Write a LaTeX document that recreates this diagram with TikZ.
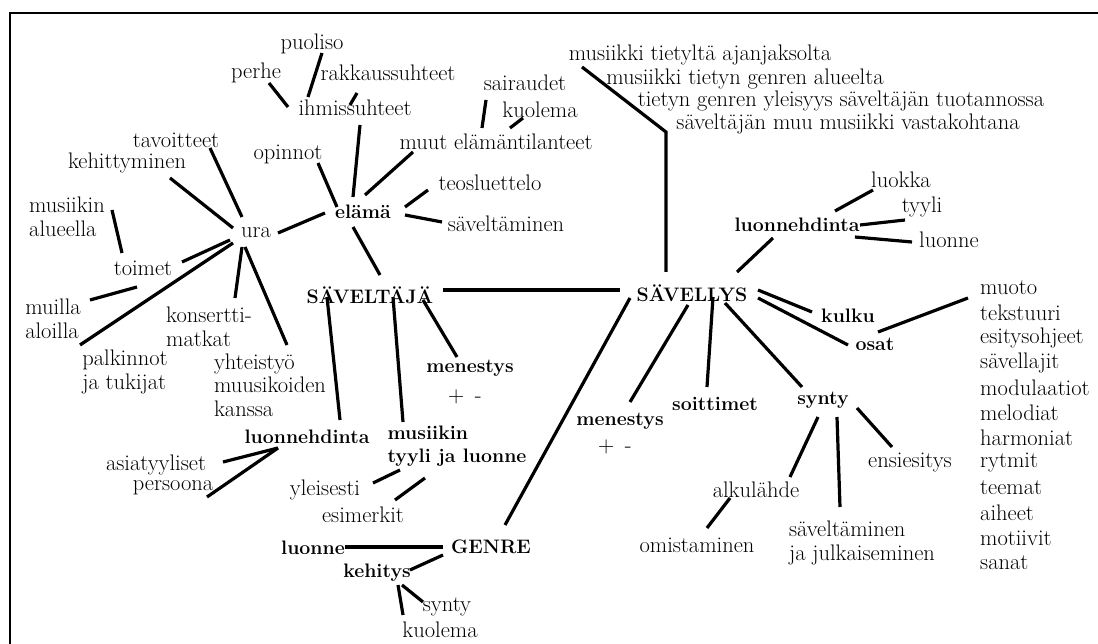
\documentclass[tikz,border=0pt]{standalone}
\usepackage{tikz}
\tikzset{
  txt/.style={inner sep=0pt, font=\fontsize{22.5}{23.5}\selectfont, align=left},
  bld/.style={inner sep=0pt, font=\fontsize{19.5}{23}\selectfont\bfseries, align=left},
  conn/.style={line width=3.2pt, line cap=butt},
  frame/.style={line width=2.4pt},
}
\newcommand\lnk[4]{\draw[conn] ([shift={(#2)}]#1.center) -- ([shift={(#4)}]#3.center);}
\begin{document}
\begin{tikzpicture}[x=1pt,y=-1pt]
\useasboundingbox (0,0) rectangle (1098,644);
\fill[white] (0,0) rectangle (1098,644);
\draw[frame] (10,644) -- (10,13) -- (1098,13);

% left cluster
\node[txt] (puoliso) at (312,44) {puoliso};
\node[txt] (perhe) at (256,73) {perhe};
\node[txt] (rakkaus) at (388,73) {rakkaussuhteet};
\node[txt] (ihm) at (355,108) {ihmissuhteet};
\node[txt] (tavoit) at (176,140) {tavoitteet};
\node[txt] (kehitt) at (127,163) {kehittyminen};
\node[txt] (opinnot) at (288,154) {opinnot};
\node[txt] (musalue) at (67,217) {musiikin\\alueella};
\node[txt] (ura) at (256,233) {ura};
\node[bld] (elama) at (363,212) {elämä};
\node[txt] (toimet) at (143,268) {toimet};
\node[txt] (muilla) at (53,319) {muilla\\aloilla};
\node[txt] (palk) at (125,372) {palkinnot\\ja tukijat};
\node[txt] (kons) at (209,327) {konsertti-\\matkat};
\node[txt] (yht) at (270,385) {yhteistyö\\muusikoiden\\kanssa};
\node[txt] (muut) at (496,142) {muut elämäntilanteet};
\node[txt] (sair) at (525,83) {sairaudet};
\node[txt] (kuol) at (540,110) {kuolema};
\node[txt] (teos) at (490,183) {teosluettelo};
\node[txt] (savel) at (506,224) {säveltäminen};
\node[bld] (SJ) at (370,295) {SÄVELTÄJÄ};
\node[bld] (SL) at (692,293) {SÄVELLYS};
\node[bld] (men1) at (470,368) {menestys};
\node[txt] (pm1) at (465,397) {+ \,-};
\node[bld] (luo1) at (307,437) {luonnehdinta};
\node[bld] (mty) at (457,446) {musiikin\\tyyli ja luonne};
\node[txt] (asia) at (156,465) {asiatyyliset};
\node[txt] (pers) at (173,488) {persoona};
\node[txt] (yleis) at (325,490) {yleisesti};
\node[txt] (esim) at (363,515) {esimerkit};
\node[bld] (genre) at (491,547) {GENRE};
\node[bld] (luonne2) at (313,548) {luonne};
\node[bld] (kehit) at (377,573) {kehitys};
\node[txt] (synty2) at (447,607) {synty};
\node[txt] (kuol2) at (440,630) {kuolema};

% right cluster
\node[txt] (mt1) at (700,55) {musiikki tietyltä ajanjaksolta};
\node[txt] (mt2) at (745,79) {musiikki tietyn genren alueelta};
\node[txt] (mt3) at (841,101) {tietyn genren yleisyys säveltäjän tuotannossa};
\node[txt] (mt4) at (848,124) {säveltäjän muu musiikki vastakohtana};
\node[txt] (luokka) at (901,180) {luokka};
\node[txt] (tyyli) at (922,207) {tyyli};
\node[bld] (luo2) at (797,225) {luonnehdinta};
\node[txt] (luonne) at (949,240) {luonne};
\node[bld] (kulku) at (848,316) {kulku};
\node[bld] (osat) at (875,344) {osat};
\node[bld] (soitt) at (715,404) {soittimet};
\node[bld] (men2) at (620,421) {menestys};
\node[txt] (pm2) at (615,447) {+ \,-};
\node[bld] (synty) at (823,400) {synty};
\node[txt] (ensi) at (910,463) {ensiesitys};
\node[txt] (alku) at (756,490) {alkulähde};
\node[txt] (omis) at (697,545) {omistaminen};
\node[txt] (savjul) at (862,543) {säveltäminen\\ja julkaiseminen};

\foreach \t [count=\i from 0] in {muoto,tekstuuri,esitysohjeet,sävellajit,modulaatiot,melodiat,harmoniat,rytmit,teemat,aiheet,motiivit,sanat}
  \node[txt, anchor=west] (list\i) at (980,288+25*\i) {\t};

% connectors
\lnk{perhe}{13,10}{ihm}{-67,-1}
\lnk{puoliso}{10,9}{ihm}{-47,-11}
\lnk{rakkaus}{-31,20}{ihm}{-5,-3}
\lnk{ihm}{5,17}{elama}{-10,-15}
\lnk{tavoit}{34,8}{ura}{-14,-16}
\lnk{kehitt}{43,15}{ura}{-23,-5}
\lnk{opinnot}{30,9}{elama}{-26,-5}
\lnk{musalue}{45,-7}{toimet}{-21,-15}
\lnk{toimet}{39,-6}{ura}{-26,7}
\lnk{muilla}{37,-19}{toimet}{-6,19}
\lnk{palk}{-45,-27}{ura}{-23,10}
\lnk{kons}{26,-29}{ura}{-14,14}
\lnk{yht}{17,-40}{ura}{-11,14}
\lnk{ura}{22,0}{elama}{-38,1}
\lnk{sair}{-39,17}{muut}{-14,-14}
\lnk{kuol}{-17,8}{muut}{14,-14}
\lnk{muut}{-83,10}{elama}{2,-17}
\lnk{teos}{-62,7}{elama}{42,-5}
\lnk{savel}{-64,-2}{elama}{42,3}
\lnk{elama}{-10,15}{SJ}{10,-20}
\lnk{SJ}{73,-5}{SL}{-72,-3}
\lnk{SJ}{53,5}{men1}{-13,-11}
\lnk{SJ}{-43,2}{luo1}{33,-17}
\lnk{SJ}{23,2}{mty}{-54,-24}
\lnk{asia}{67,-3}{luo1}{-29,11}
\lnk{pers}{34,9}{luo1}{-29,11}
\lnk{yleis}{48,-7}{mty}{-57,24}
\lnk{esim}{32,-15}{mty}{-32,32}
\lnk{SL}{-62,5}{genre}{14,-22}
\lnk{luonne2}{32,-1}{genre}{-48,0}
\lnk{kehit}{33,-3}{genre}{-48,8}
\lnk{kehit}{25,12}{synty2}{-24,-5}
\lnk{kehit}{21,12}{kuol2}{-37,-15}
\draw[conn, line join=miter] ([shift={(-118,12)}]mt1.center) -- ([shift={(-182,8)}]mt4.center) -- ([shift={(-26,-21)}]SL.center);
\lnk{luokka}{-28,10}{luo2}{38,-14}
\lnk{tyyli}{-17,13}{luo2}{63,0}
\lnk{luonne}{-37,2}{luo2}{58,12}
\lnk{luo2}{-24,13}{SL}{45,-21}
\lnk{SL}{66,-3}{kulku}{-36,-4}
\lnk{SL}{66,5}{osat}{-27,1}
\draw[conn] ([shift={(3,-12)}]osat.center) -- ([shift={(-12,10)}]list0.west);
\lnk{SL}{21,4}{soitt}{-8,-17}
\lnk{SL}{-4,12}{men2}{10,-19}
\lnk{SL}{33,10}{synty}{-21,-13}
\lnk{synty}{-5,17}{alku}{34,-13}
\lnk{synty}{14,17}{savjul}{-22,-36}
\lnk{synty}{34,8}{ensi}{-18,-16}
\lnk{alku}{-26,8}{omis}{10,-17}
\end{tikzpicture}
\end{document}
